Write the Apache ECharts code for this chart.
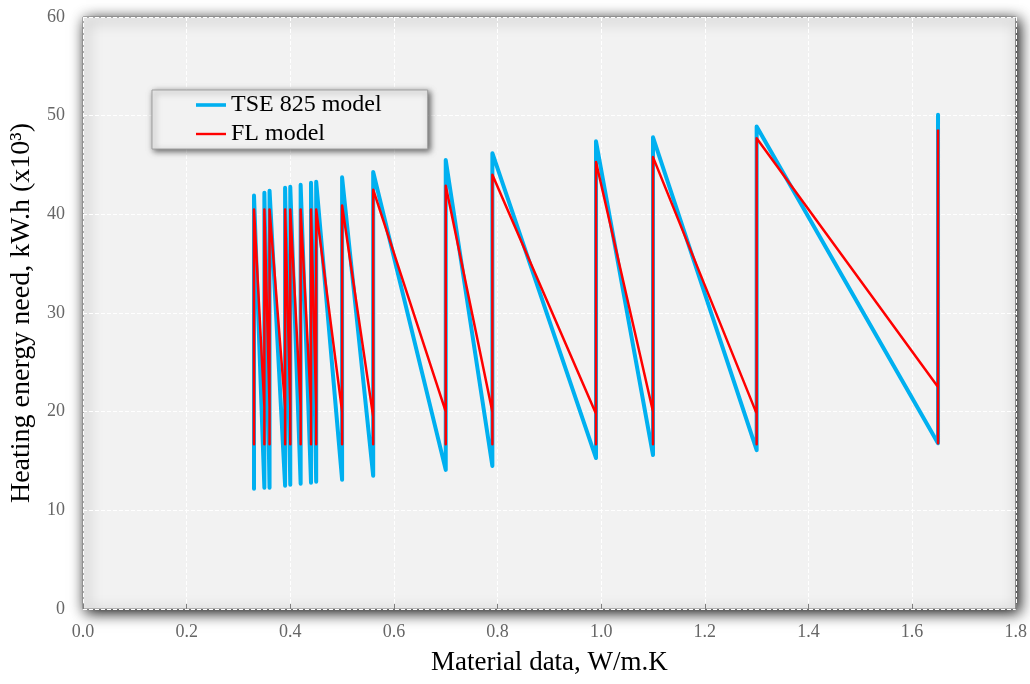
<!DOCTYPE html>
<html>
<head>
<meta charset="utf-8">
<script src="https://cdn.jsdelivr.net/npm/echarts@6/dist/echarts.min.js"></script>
<style>html,body{margin:0;padding:0;background:#fff;}#c{width:1030px;height:684px;}</style>
</head>
<body>
<div id="c"></div>
<script>
// Material conductivity values (W/m.K)
const xValues = [0.33, 0.35, 0.36, 0.39, 0.40, 0.42, 0.44, 0.45, 0.50, 0.56, 0.70, 0.79, 0.99, 1.10, 1.30, 1.65];
// TSE 825 model: lowest and highest heating need at each material value (kW.h x10^3)
const tseLow  = [12.2, 12.3, 12.3, 12.5, 12.6, 12.7, 12.8, 12.9, 13.1, 13.5, 14.1, 14.5, 15.3, 15.6, 16.1, 16.8];
const tseHigh = [41.9, 42.2, 42.4, 42.7, 42.8, 43.0, 43.2, 43.3, 43.75, 44.3, 45.5, 46.2, 47.4, 47.8, 48.9, 50.1];
// FL model: arrival value, lowest and highest value at each material value
const flArrive = [20.5, 20.5, 20.5, 20.5, 20.5, 20.5, 20.5, 20.5, 20.0, 19.5, 20.0, 20.0, 19.8, 20.0, 19.8, 22.5];
const flLow    = [16.7, 16.7, 16.7, 16.7, 16.7, 16.7, 16.7, 16.7, 16.7, 16.7, 16.7, 16.7, 16.7, 16.7, 16.7, 16.8];
const flHigh   = [40.5, 40.5, 40.5, 40.5, 40.5, 40.5, 40.5, 40.5, 40.9, 42.5, 42.9, 44.0, 45.3, 45.8, 47.7, 48.6];
const seriesNames = ['TSE 825 model', 'FL model'];
const xTicks = [0, 0.2, 0.4, 0.6, 0.8, 1.0, 1.2, 1.4, 1.6, 1.8];
const yTicks = [0, 10, 20, 30, 40, 50, 60];

const tseData = [];
xValues.forEach((x, i) => { tseData.push([x, tseLow[i]]); tseData.push([x, tseHigh[i]]); });
const flData = [];
xValues.forEach((x, i) => { flData.push([x, flArrive[i]]); flData.push([x, flLow[i]]); flData.push([x, flHigh[i]]); });

const serif = '"Liberation Serif", "DejaVu Serif", serif';
const chart = echarts.init(document.getElementById('c'), null, {renderer: 'canvas'});
chart.setOption({
  animation: false,
  backgroundColor: '#ffffff',
  grid: {
    left: 83, right: 14, top: 17, bottom: 75,
    show: true,
    backgroundColor: '#f2f2f2',
    borderColor: '#7a7a7a',
    borderWidth: 1,
    shadowColor: 'rgba(0,0,0,1)',
    shadowBlur: 14,
    shadowOffsetX: 3,
    shadowOffsetY: 3
  },
  legend: {
    orient: 'vertical',
    left: 152, top: 90,
    padding: [3, 46, 3, 44],
    itemGap: 5,
    itemWidth: 30,
    itemHeight: 24,
    backgroundColor: '#f2f2f2',
    borderColor: '#a0a0a0',
    borderWidth: 1,
    shadowColor: 'rgba(0,0,0,0.6)',
    shadowBlur: 6,
    shadowOffsetX: 2,
    shadowOffsetY: 2,
    textStyle: {fontFamily: serif, fontSize: 24, color: '#000'},
    data: [
      {name: seriesNames[0], icon: 'path://M0,10.2 L30,10.2 L30,13.8 L0,13.8 Z'},
      {name: seriesNames[1], icon: 'path://M0,10.8 L30,10.8 L30,13.2 L0,13.2 Z'}
    ]
  },
  xAxis: {
    type: 'value',
    min: xTicks[0], max: xTicks[xTicks.length - 1], interval: 0.2,
    name: 'Material data, W/m.K',
    nameLocation: 'middle',
    nameGap: 40,
    nameTextStyle: {fontFamily: serif, fontSize: 27, color: '#000'},
    axisLine: {show: false},
    axisTick: {show: true, inside: true, length: 5, lineStyle: {color: '#808080'}},
    axisLabel: {fontFamily: serif, fontSize: 18, color: '#666', margin: 14,
      formatter: v => v.toFixed(1)},
    splitLine: {show: true, lineStyle: {color: '#ffffff', type: 'dashed', width: 1}}
  },
  yAxis: {
    type: 'value',
    min: yTicks[0], max: yTicks[yTicks.length - 1], interval: 10,
    name: 'Heating energy need, kW.h (x10\u00b3)',
    nameLocation: 'middle',
    nameGap: 41,
    nameTextStyle: {fontFamily: serif, fontSize: 28, color: '#000'},
    axisLine: {show: false},
    axisTick: {show: false},
    axisLabel: {fontFamily: serif, fontSize: 18, color: '#666', margin: 18},
    splitLine: {show: true, lineStyle: {color: '#ffffff', type: 'dashed', width: 1}}
  },
  series: [
    {
      name: seriesNames[0], type: 'line', data: tseData,
      symbol: 'none', showSymbol: false,
      lineStyle: {color: '#00b0f0', width: 4, join: 'round', cap: 'round'},
      itemStyle: {color: '#00b0f0'}
    },
    {
      name: seriesNames[1], type: 'line', data: flData,
      symbol: 'none', showSymbol: false,
      lineStyle: {color: '#ff0000', width: 2.5, join: 'round'},
      itemStyle: {color: '#ff0000'}
    }
  ]
});
</script>
</body>
</html>
